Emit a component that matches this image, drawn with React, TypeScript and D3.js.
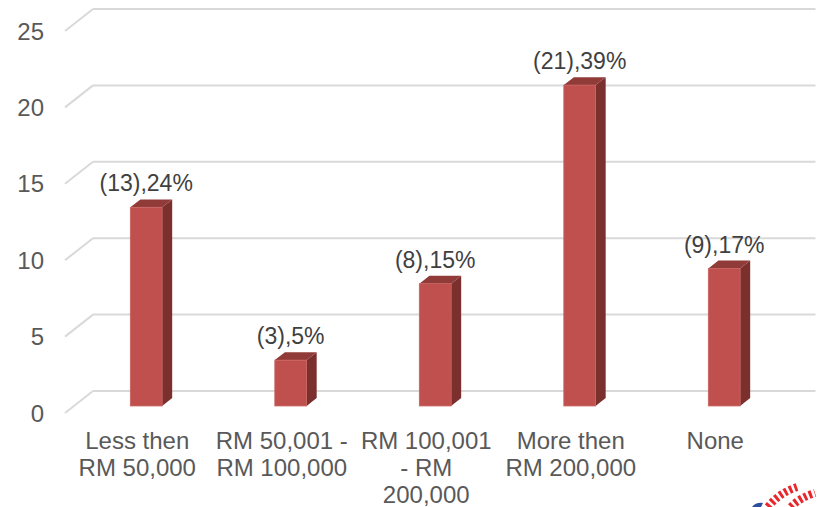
import React from "react";
import * as d3 from "d3";

const categories: string[][] = [
  ["Less then", "RM 50,000"],
  ["RM 50,001 -", "RM 100,000"],
  ["RM 100,001", "- RM", "200,000"],
  ["More then", "RM 200,000"],
  ["None"],
];
const counts: number[] = [13, 3, 8, 21, 9];
const percents: string[] = ["24%", "5%", "15%", "39%", "17%"];
const yTicks: number[] = [0, 5, 10, 15, 20, 25];

const W = 817;
const H = 507;
// 3D floor depth vector (full depth)
const DX = 28;
const DY = -22;
const FONT = "'Liberation Sans', Arial, sans-serif";

export default function App() {
  const y = d3.scaleLinear().domain([0, 25]).range([413, 31]);
  const x = d3
    .scaleBand<number>()
    .domain(d3.range(categories.length))
    .range([65, 787.5]);

  const barW = x.bandwidth() * 0.22;
  const frontD = 0.32;
  const backD = 0.68;
  const fdx = DX * frontD;
  const fdy = DY * frontD;
  const bdx = DX * (backD - frontD);
  const bdy = DY * (backD - frontD);

  return (
    <svg
      width={W}
      height={H}
      style={{ position: "absolute", left: 0, top: 0, background: "#fff" }}
      fontFamily={FONT}
    >
      {/* back wall gridlines and floor/side diagonals */}
      {yTicks.map((t) => (
        <g key={t} stroke="#D9D9D9" strokeWidth={2} fill="none">
          <line x1={65} y1={y(t)} x2={65 + DX} y2={y(t) + DY} />
          <line x1={65 + DX} y1={y(t) + DY} x2={787.5 + DX} y2={y(t) + DY} />
        </g>
      ))}
      {yTicks.map((t) => (
        <text
          key={"t" + t}
          x={44}
          y={y(t)}
          textAnchor="end"
          dominantBaseline="central"
          fontSize={24}
          fill="#595959"
        >
          {t}
        </text>
      ))}

      {counts.map((v, i) => {
        const cx = (x(i) as number) + x.bandwidth() / 2 + fdx;
        const x0 = cx - barW / 2;
        const x1 = cx + barW / 2;
        const top = y(v) + fdy;
        const bot = y(0) + fdy;
        const side = `M${x1},${top}L${x1 + bdx},${top + bdy}L${x1 + bdx},${bot + bdy}L${x1},${bot}Z`;
        const lid = `M${x0},${top}L${x0 + bdx},${top + bdy}L${x1 + bdx},${top + bdy}L${x1},${top}Z`;
        return (
          <g key={"b" + i}>
            <path d={side} fill="#7B302E" />
            <path d={lid} fill="#913B39" />
            <rect
              x={x0}
              y={top}
              width={barW}
              height={bot - top}
              fill="#C0504D"
              stroke="#C86260"
              strokeWidth={0.8}
            />
            <text
              x={cx}
              y={top + bdy - 8}
              textAnchor="middle"
              fontSize={23}
              fill="#404040"
            >
              {`(${v}),${percents[i]}`}
            </text>
          </g>
        );
      })}

      {categories.map((lines, i) => {
        const cx = (x(i) as number) + x.bandwidth() / 2;
        return (
          <text
            key={"c" + i}
            x={cx}
            textAnchor="middle"
            fontSize={24}
            fill="#595959"
          >
            {lines.map((ln, j) => (
              <tspan key={j} x={cx} y={440 + j * 27} dominantBaseline="central">
                {ln}
              </tspan>
            ))}
          </text>
        );
      })}

      {/* corner emblem */}
      <g>
        <path d="M752,507 Q756,502 763,503 L761,507 Z" fill="#2E4E9E" />
        <path
          d="M768,507 Q779,493 797,487"
          stroke="#E8262B"
          strokeWidth={8}
          fill="none"
          strokeDasharray="3 2.5"
        />
        <path
          d="M791,507 Q799,498 815,493"
          stroke="#E8262B"
          strokeWidth={8}
          fill="none"
          strokeDasharray="3 2.5"
        />
      </g>
    </svg>
  );
}
